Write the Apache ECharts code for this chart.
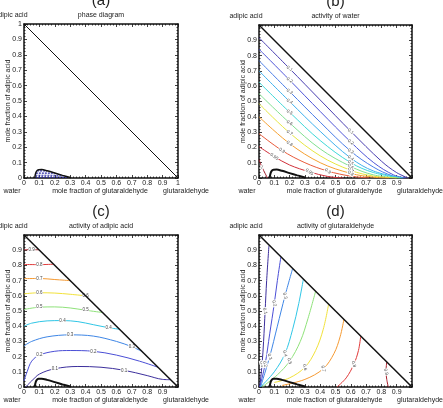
<!DOCTYPE html>
<html>
<head>
<meta charset="utf-8">
<script src="https://cdn.jsdelivr.net/npm/echarts@6/dist/echarts.min.js"></script>
<style>
  html, body { margin: 0; padding: 0; background: #fff; }
  #chart { width: 443px; height: 408px; }
</style>
</head>
<body>
<div id="chart"></div>
<script>
// tick labels
const ticksFull = ['0', '0.1', '0.2', '0.3', '0.4', '0.5', '0.6', '0.7', '0.8', '0.9', '1'];
const ticksNoMax = ['0', '0.1', '0.2', '0.3', '0.4', '0.5', '0.6', '0.7', '0.8', '0.9', ''];

// ternary edge and miscibility gap (x = glutaraldehyde, y = adipic acid)
const diagonal = [[0, 1], [1, 0]];
const gapLoop = [[0.07, 0], [0.074, 0.025], [0.082, 0.045], [0.095, 0.054], [0.115, 0.055],
  [0.15, 0.047], [0.2, 0.032], [0.25, 0.017], [0.3, 0.003], [0.305, 0]];
const tie1 = [[0.085, 0.047], [0.15, 0.046]];
const tie2 = [[0.077, 0.032], [0.2, 0.031]];
const tie3 = [[0.074, 0.018], [0.245, 0.018]];
const tie4 = [[0.072, 0.006], [0.285, 0.006]];

// (b) activity of water
const water01 = [[0, 0.917], [0.2, 0.715], [0.4, 0.51], [0.6, 0.305], [0.8, 0.11], [0.9, 0.035], [0.975, 0]];
const water02 = [[0, 0.842], [0.2, 0.64], [0.4, 0.435], [0.6, 0.235], [0.75, 0.1], [0.88, 0.02], [0.96, 0]];
const water03 = [[0, 0.767], [0.2, 0.565], [0.4, 0.365], [0.6, 0.175], [0.75, 0.07], [0.87, 0.015], [0.95, 0]];
const water04 = [[0, 0.70], [0.2, 0.50], [0.4, 0.305], [0.6, 0.13], [0.75, 0.045], [0.94, 0]];
const water05 = [[0, 0.626], [0.2, 0.43], [0.4, 0.245], [0.6, 0.10], [0.75, 0.035], [0.93, 0]];
const water06 = [[0, 0.551], [0.2, 0.36], [0.4, 0.19], [0.6, 0.075], [0.75, 0.02], [0.92, 0]];
const water07 = [[0, 0.486], [0.2, 0.295], [0.4, 0.145], [0.6, 0.05], [0.75, 0.012], [0.9, 0]];
const water08 = [[0, 0.40], [0.2, 0.225], [0.4, 0.10], [0.6, 0.03], [0.75, 0.005], [0.85, 0]];
const water09 = [[0, 0.29], [0.15, 0.18], [0.3, 0.10], [0.45, 0.045], [0.6, 0.012], [0.72, 0]];
const water095 = [[0, 0.205], [0.1, 0.14], [0.2, 0.085], [0.33, 0.04], [0.45, 0.01], [0.55, 0]];
const water099 = [[0, 0.12], [0.02, 0.07], [0.04, 0.03], [0.055, 0]];
const waterLevels = ['0.1', '0.2', '0.3', '0.4', '0.5', '0.6', '0.7', '0.8', '0.9', '0.95', '1'];
const waterColors = ['#4a3fb0', '#4f55d8', '#4a7ee8', '#3fb0ee', '#3ed8d8', '#80e090',
  '#e6e640', '#f5a030', '#e85a3a', '#d0303a', '#a01828'];

// (c) activity of adipic acid
const adip01 = [[0.01, 0], [0.05, 0.04], [0.1, 0.085], [0.2, 0.12], [0.35, 0.135], [0.5, 0.13],
  [0.65, 0.11], [0.8, 0.075], [0.9, 0.05], [0.952, 0.048]];
const adip02 = [[0, 0.04], [0.02, 0.1], [0.05, 0.17], [0.1, 0.21], [0.2, 0.235], [0.3, 0.24],
  [0.45, 0.235], [0.6, 0.21], [0.75, 0.17], [0.87, 0.13]];
const adip03 = [[0, 0.27], [0.05, 0.30], [0.15, 0.33], [0.3, 0.343], [0.45, 0.335], [0.6, 0.30],
  [0.7, 0.265], [0.765, 0.235]];
const adip04 = [[0, 0.40], [0.05, 0.42], [0.15, 0.435], [0.25, 0.437], [0.35, 0.43], [0.45, 0.41],
  [0.55, 0.39], [0.62, 0.38]];
const adip05 = [[0, 0.51], [0.1, 0.525], [0.2, 0.527], [0.3, 0.52], [0.4, 0.505], [0.51, 0.49]];
const adip06 = [[0, 0.613], [0.1, 0.62], [0.2, 0.618], [0.3, 0.61], [0.4, 0.60]];
const adip07 = [[0, 0.713], [0.1, 0.714], [0.2, 0.707], [0.3, 0.70]];
const adip08 = [[0, 0.806], [0.1, 0.805], [0.192, 0.808]];
const adip09 = [[0, 0.903], [0.05, 0.903], [0.097, 0.903]];
const adipLevels = ['0.1', '0.2', '0.3', '0.4', '0.5', '0.6', '0.7', '0.8', '0.9'];

// (d) activity of glutaraldehyde
const glut01 = [[0.005, 0], [0.02, 0.15], [0.03, 0.3], [0.04, 0.5], [0.05, 0.7], [0.065, 0.93]];
const glut02 = [[0.005, 0], [0.04, 0.15], [0.07, 0.35], [0.1, 0.55], [0.12, 0.7], [0.143, 0.855]];
const glut03 = [[0.01, 0], [0.07, 0.2], [0.12, 0.4], [0.17, 0.6], [0.22, 0.78]];
const glut04 = [[0.01, 0], [0.1, 0.1], [0.17, 0.22], [0.22, 0.38], [0.26, 0.55], [0.29, 0.71]];
const glut05 = [[0.02, 0], [0.12, 0.08], [0.2, 0.17], [0.27, 0.3], [0.32, 0.45], [0.37, 0.63]];
const glut06 = [[0.1, 0.03], [0.2, 0.06], [0.3, 0.13], [0.37, 0.24], [0.42, 0.38], [0.455, 0.545]];
const glut07 = [[0.15, 0.01], [0.3, 0.05], [0.42, 0.12], [0.49, 0.22], [0.53, 0.33], [0.555, 0.445]];
const glut08 = [[0.51, 0], [0.57, 0.06], [0.62, 0.15], [0.65, 0.24], [0.665, 0.335]];
const glut09 = [[0.845, 0], [0.835, 0.05], [0.83, 0.1], [0.835, 0.165]];
const glutLevels = ['0.1', '0.2', '0.3', '0.4', '0.5', '0.6', '0.7', '0.8', '0.9'];

const levelColors9 = ['#3c2f9c', '#4b4fd6', '#3e86e6', '#2fc6e6', '#8fe27a', '#f2e23a',
  '#f59a32', '#e03a3a', '#a8202c'];

const FONT = 'Liberation Sans, Arial, sans-serif';

const panels = [
  { left: 24, top: 24, w: 154, h: 154, letter: '(a)', title: 'phase diagram', ticks: ticksFull },
  { left: 259, top: 25, w: 153, h: 153, letter: '(b)', title: 'activity of water', ticks: ticksNoMax },
  { left: 24, top: 235, w: 154, h: 152, letter: '(c)', title: 'activity of adipic acid', ticks: ticksNoMax },
  { left: 259, top: 235, w: 153, h: 152, letter: '(d)', title: 'activity of glutaraldehyde', ticks: ticksNoMax }
];

const grid = [], xAxis = [], yAxis = [], graphic = [], series = [];

const frameLine = { show: true, onZero: false, lineStyle: { color: '#111', width: 1.5 } };
const tick = { show: true, inside: true, length: 3, lineStyle: { color: '#111', width: 0.8 } };
const minor = { show: true, splitNumber: 5, length: 1.5, lineStyle: { color: '#111', width: 0.8 } };

function txt(text, x, y, size, extra) {
  return Object.assign({
    type: 'text', x: x, y: y, silent: true,
    style: { text: text, fontSize: size, fontFamily: FONT, fill: '#222', align: 'center', verticalAlign: 'middle' }
  }, extra || {});
}

panels.forEach((p, gi) => {
  grid.push({ left: p.left, top: p.top, width: p.w, height: p.h, containLabel: false });
  const fmt = v => p.ticks[Math.round(v * 10)];
  const base = { type: 'value', min: 0, max: 1, interval: 0.1, gridIndex: gi, splitLine: { show: false },
    axisLine: frameLine, axisTick: tick, minorTick: minor };
  xAxis.push(Object.assign({}, base, { position: 'bottom',
    axisLabel: { show: true, fontSize: 7, fontFamily: FONT, color: '#222', margin: 2, formatter: fmt } }));
  xAxis.push(Object.assign({}, base, { position: 'top', axisLabel: { show: false } }));
  yAxis.push(Object.assign({}, base, { position: 'left',
    axisLabel: { show: true, fontSize: 7, fontFamily: FONT, color: '#222', margin: 2, formatter: fmt } }));
  yAxis.push(Object.assign({}, base, { position: 'right', axisLabel: { show: false } }));

  const bottom = p.top + p.h;
  graphic.push(txt(p.letter, p.left + p.w / 2, p.top - 23, 15));
  graphic.push(txt(p.title, p.left + p.w / 2, p.top - 8.5, 7));
  graphic.push(txt('adipic acid', p.left - 13, p.top - 8.5, 7));
  graphic.push(txt('water', p.left - 12, bottom + 13, 7));
  graphic.push(txt('mole fraction of glutaraldehyde', p.left + p.w / 2 - 1, bottom + 13, 7));
  graphic.push(txt('glutaraldehyde', p.left + p.w + 8, bottom + 13, 7));
  graphic.push(txt('mole fraction of adipic acid', p.left - 16, p.top + p.h / 2, 7, { rotation: Math.PI / 2 }));

  series.push({
    type: 'line', xAxisIndex: gi * 2, yAxisIndex: gi * 2, data: diagonal, showSymbol: false, silent: true,
    lineStyle: { color: '#111', width: gi === 0 ? 1 : 1.5 }, z: 5
  });
  series.push({
    type: 'line', xAxisIndex: gi * 2, yAxisIndex: gi * 2, data: gapLoop, showSymbol: false, silent: true,
    smooth: 0.3, lineStyle: { color: '#111', width: gi === 0 ? 1.5 : 2 }, z: 6
  });
});

function contour(pts, level, color, gi, labelAt, rot) {
  return {
    type: 'line', xAxisIndex: gi * 2, yAxisIndex: gi * 2, smooth: 0.35, silent: true,
    symbol: 'circle', symbolSize: 0, showSymbol: true, showAllSymbol: true,
    lineStyle: { color: color, width: 1 }, itemStyle: { color: color },
    data: pts.map((pt, i) => labelAt.indexOf(i) >= 0
      ? { value: pt, label: { show: true, position: 'inside', formatter: level, fontSize: 4.5, fontFamily: FONT,
          color: '#444', backgroundColor: '#fff', padding: [0, 0.5], rotate: rot || 0 } }
      : { value: pt, label: { show: false } })
  };
}

// (a) tie lines inside the gap
[tie1, tie2, tie3, tie4].forEach(t => series.push({
  type: 'line', xAxisIndex: 0, yAxisIndex: 0, data: t, showSymbol: false, silent: true,
  lineStyle: { color: '#2a2aa8', width: 1.2, type: [2, 1] }
}));

// (b)
[water01, water02, water03, water04, water05, water06, water07, water08, water09, water095, water099]
  .forEach((pts, i) => series.push(contour(pts, waterLevels[i], waterColors[i], 1,
    i < 10 ? [1, 3] : [1], -35)));

// (c)
[adip01, adip02, adip03, adip04, adip05, adip06, adip07, adip08, adip09]
  .forEach((pts, i) => series.push(contour(pts, adipLevels[i], levelColors9[i], 2,
    i < 4 ? [3, 6] : (i < 6 ? [1, 4] : [1]), 0)));

// (d)
[glut01, glut02, glut03, glut04, glut05, glut06, glut07, glut08, glut09]
  .forEach((pts, i) => series.push(contour(pts, glutLevels[i], levelColors9[i], 3,
    i < 3 ? [1, 3] : [2], -75)));

const chart = echarts.init(document.getElementById('chart'), null, { renderer: 'canvas' });
chart.setOption({
  animation: false,
  backgroundColor: '#fff',
  grid: grid,
  xAxis: xAxis,
  yAxis: yAxis,
  graphic: graphic,
  series: series
});
</script>
</body>
</html>
